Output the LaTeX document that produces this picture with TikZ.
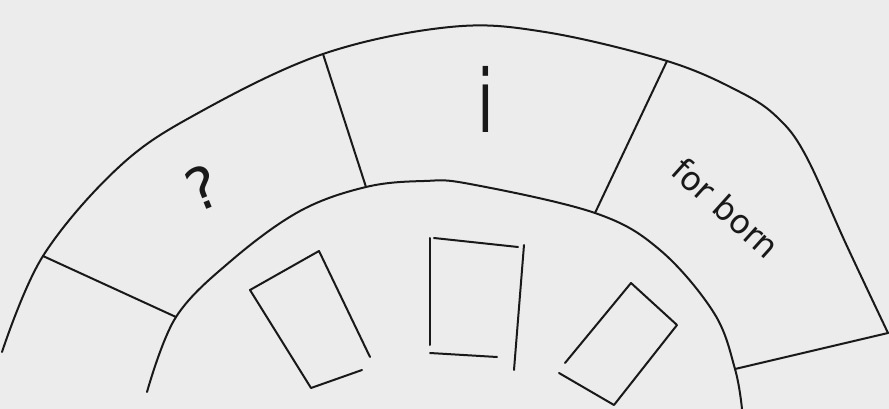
\documentclass[tikz,border=0pt]{standalone}
\usepackage{fontspec}
\setmainfont{DejaVu Sans}
\definecolor{paper}{RGB}{236,236,236}
\definecolor{ink}{RGB}{25,25,25}
\begin{document}
\begin{tikzpicture}[x=1pt,y=-1pt,
  pen/.style={draw=ink,line width=2pt,line cap=round,line join=round},
  label/.style={text=ink,inner sep=0pt}]
\fill[paper] (0,0) rectangle (889,409);
\useasboundingbox (0,0) rectangle (889,409);
% radial end points
\coordinate (o1) at (43,256);  \coordinate (i1) at (176,317);
\coordinate (o2) at (323,54);  \coordinate (i2) at (366,187);
\coordinate (o3) at (667,61);  \coordinate (i3) at (595,213);
\coordinate (o4) at (888,333); \coordinate (i4) at (735,369);
% outer arc
\draw[pen] plot[smooth,tension=0.6] coordinates {(2,352) (o1) (120,166) (200,112) (o2) (450,27) (545,32) (o3) (740,92) (778,118) (806,156) (846,244) (o4)};
% inner arc
\draw[pen] plot[smooth,tension=0.6] coordinates {(147,392) (i1) (232,260) (300,211) (i2) (424,181) (470,184) (i3) (660,250) (714,313) (i4) (742,409)};
% radial lines
\draw[pen] (o1) -- (i1);
\draw[pen] (o2) -- (i2);
\draw[pen] (o3) -- (i3);
\draw[pen] (i4) -- (o4);
% boxes
\draw[pen] (370,357) -- (319,251) -- (250,290) -- (311,388) -- (362,370);
\draw[pen] (430,345) -- (430,238);
\draw[pen] (434,238) -- (518,247);
\draw[pen] (524,245) -- (514,370);
\draw[pen] (430,353) -- (497,357);
\draw[pen] (565,363) -- (631,283) -- (677,325) -- (614,405) -- (559,373);
% labels
\node[label,font=\fontsize{58}{58}\selectfont,rotate=22] (q) at (203,188) {?};
\node[label,font=\fontsize{60}{60}\selectfont,yscale=1.45] (ii) at (486,99) {i};
\node[label,font=\fontsize{33}{33}\selectfont,rotate=-42] (fb) at (726,208) {for born};
\end{tikzpicture}
\end{document}
